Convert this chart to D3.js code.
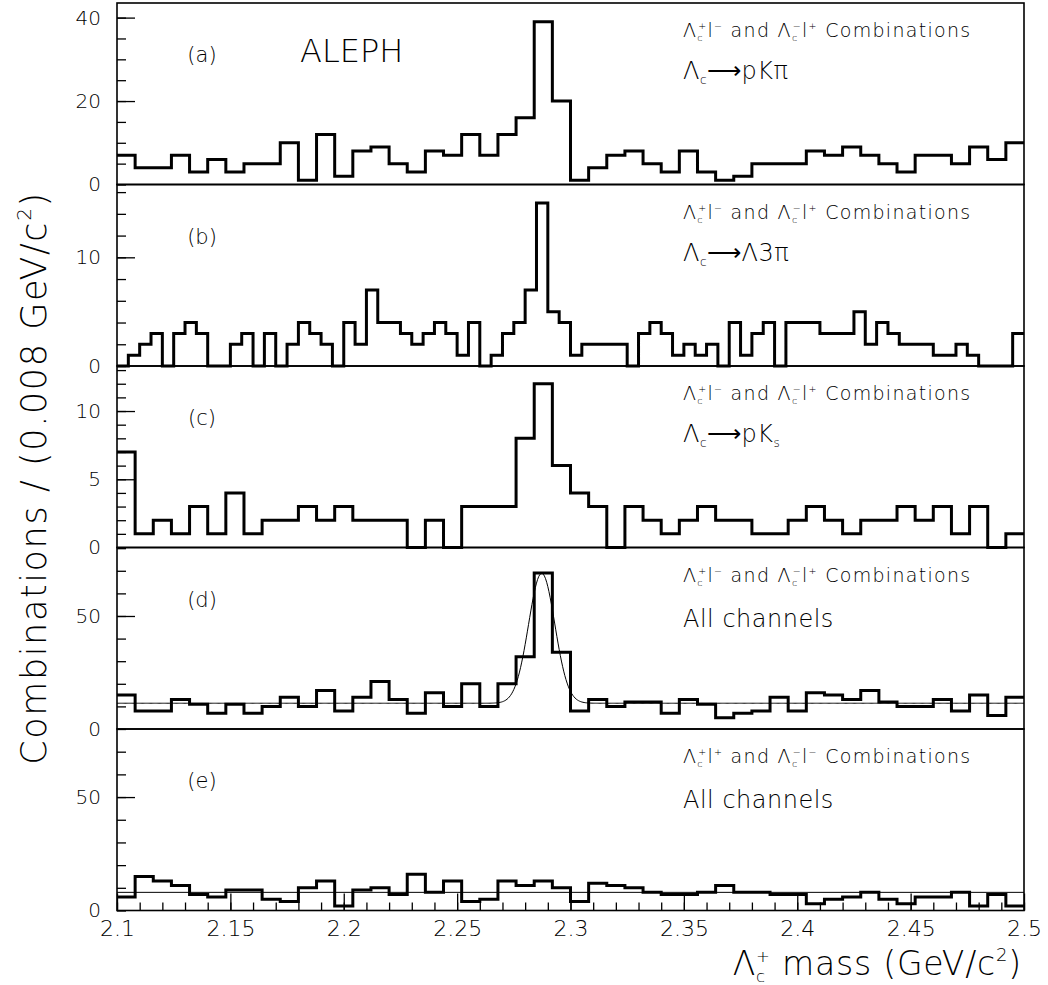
<!DOCTYPE html>
<html>
<head>
<meta charset="utf-8">
<script src="https://cdn.jsdelivr.net/npm/d3@7/dist/d3.min.js"></script>
<style>
  body { margin: 0; background: #fff; }
  text { font-family: "DejaVu Sans", sans-serif; font-weight: 200; fill: #000; }
</style>
</head>
<body>
<div id="chart"></div>
<script>
// ---- data ----
const massMin = 2.1, massMax = 2.5;
const binWidth = 0.008;      // panels a, c, d, e (50 bins)
const binWidthB = 0.005;     // panel b (80 bins)

const countsA = [7,4,4,7,3,6,3,5,5,10, 1,12,2,8,9,5,3,8,7,12, 7,12,16,39,20, 1,4,7,8,5,
                 3,8,3,1,2, 5,5,5,8,7, 9,7,5,3,7, 7,5,9,6,10];
const countsB = [0,1,2,3,0,3,4,3,0,0, 2,3,0,3,0,2,4,3,2,0, 4,2,7,4,4,3,2,3,4,3,
                 1,4,0,1,3,4,7,15,5,4, 1,2,2,2,2,0,3,4,3,1, 2,1,2,0,4,1,3,4,0,4,
                 4,4,3,3,3,5,2,4,3,2, 2,2,1,1,2,1,0,0,0,3];
const countsC = [7,1,2,1,3,1,4,1,2,2, 3,2,3,2,2,2,0,2,0,3, 3,3,8,12,6, 4,3,0,3,2,
                 1,2,3,2,2, 1,1,2,3,2, 1,2,2,3,2, 3,1,3,0,1];
const countsD = [15,8,8,13,11,7,11,7,10,14, 10,17,8,14,21,13,7,16,10,20, 10,20,32,69,34,
                 8,13,10,12,12, 7,13,11,5,7, 8,14,8,16,15, 13,17,12,10,10, 13,8,15,6,14];
const countsE = [6,15,13,11,7,6,9,9,5,4, 10,13,2,9,10,7,16,8,13,4, 5,13,11,13,10,
                 4,12,11,10,8, 7,7,8,11,8, 8,7,7,3,5, 6,8,5,3,6, 6,8,2,7,2];

// fit in (d): gaussian on a flat background; flat level in (e)
const fitD = { mean: 2.2873, sigma: 0.0058, amplitude: 57.5, background: 11.4 };
const flatE = 8;

const panelNames = ["(a)", "(b)", "(c)", "(d)", "(e)"];
const yMax = [43.5, 16.7, 13.3, 80.3, 80];
const yMinorStep = [5, 2, 1, 10, 10];
const yLabelTicks = [[0, 20, 40], [0, 10], [0, 5, 10], [0, 50], [0, 50]];
const xLabelTicks = [2.1, 2.15, 2.2, 2.25, 2.3, 2.35, 2.4, 2.45, 2.5];
// charges in the first annotation line: [lambda1, lepton1, lambda2, lepton2]
const chargeSets = [["+","−","−","+"], ["+","−","−","+"], ["+","−","−","+"], ["+","−","−","+"], ["+","+","−","−"]];
const decayLines = [["pKπ", null], ["Λ3π", null], ["pK", "s"], ["All channels"], ["All channels"]];

// ---- layout ----
const svgW = 1048, svgH = 985;
const plotLeft = 117, plotRight = 1024, plotTop = 3, panelH = 181.5;

const svg = d3.select("#chart").append("svg")
    .attr("width", svgW)
    .attr("height", svgH);

const x = d3.scaleLinear().domain([massMin, massMax]).range([plotLeft, plotRight]);

const allCounts = [countsA, countsB, countsC, countsD, countsE];
const widths = [binWidth, binWidthB, binWidth, binWidth, binWidth];

// histogram as a step line
function stepPoints(counts, w) {
    const pts = counts.map((c, i) => [massMin + i * w, c]);
    pts.push([massMin + counts.length * w, counts[counts.length - 1]]);
    return pts;
}

// Lambda_c with stacked sub/superscript
function lambdaC(t, sup, fs) {
    t.append("tspan").text("Λ");
    t.append("tspan").attr("font-size", fs * 0.5).attr("dy", fs * 0.22).text("c");
    if (sup) {
        t.append("tspan").attr("font-size", fs * 0.5).attr("dx", -fs * 0.3).attr("dy", -fs * 0.62).text(sup);
        return fs * 0.4; // baseline offset to restore
    }
    return -fs * 0.22;
}

allCounts.forEach((counts, p) => {
    const y0 = plotTop + p * panelH, y1 = y0 + panelH;
    const y = d3.scaleLinear().domain([0, yMax[p]]).range([y1, y0]);
    const g = svg.append("g");

    // histogram
    const line = d3.line()
        .x(d => x(d[0]))
        .y(d => y(d[1]))
        .curve(d3.curveStepAfter);
    g.append("path")
        .datum(stepPoints(counts, widths[p]))
        .attr("fill", "none")
        .attr("stroke", "#000")
        .attr("stroke-width", 3)
        .attr("d", line);

    // fit curves
    if (p === 3) {
        const xs = d3.range(massMin, massMax + 0.0001, 0.0005);
        const fit = d3.line()
            .x(m => x(m))
            .y(m => y(fitD.background + fitD.amplitude * Math.exp(-0.5 * ((m - fitD.mean) / fitD.sigma) ** 2)));
        g.append("path").datum(xs)
            .attr("fill", "none").attr("stroke", "#000").attr("stroke-width", 1)
            .attr("d", fit);
    }
    if (p === 4) {
        g.append("line")
            .attr("x1", plotLeft).attr("x2", plotRight)
            .attr("y1", y(flatE)).attr("y2", y(flatE))
            .attr("stroke", "#000").attr("stroke-width", 1);
    }

    // frame
    g.append("rect")
        .attr("x", plotLeft).attr("y", y0)
        .attr("width", plotRight - plotLeft).attr("height", panelH)
        .attr("fill", "none").attr("stroke", "#000").attr("stroke-width", 1.6);

    // y ticks (inside, pointing right)
    const minor = d3.range(0, yMax[p], yMinorStep[p]);
    g.append("g")
        .attr("transform", `translate(${plotLeft},0)`)
        .call(d3.axisRight(y).tickValues(minor).tickSize(9).tickFormat(""))
        .call(a => a.select(".domain").remove())
        .selectAll("line").attr("stroke-width", 1.3);
    g.append("g")
        .attr("transform", `translate(${plotLeft},0)`)
        .call(d3.axisRight(y).tickValues(yLabelTicks[p].filter(v => v > 0)).tickSize(18).tickFormat(""))
        .call(a => a.select(".domain").remove())
        .selectAll("line").attr("stroke-width", 1.3);

    // y labels
    g.append("g")
        .attr("transform", `translate(${plotLeft},0)`)
        .call(d3.axisLeft(y).tickValues(yLabelTicks[p]).tickSize(0).tickPadding(16))
        .call(a => a.select(".domain").remove())
        .selectAll("text")
        .style("font-family", "DejaVu Sans")
        .style("font-weight", 200)
        .style("font-size", "20px");

    // panel letter
    g.append("text")
        .attr("x", 202).attr("y", y0 + 59)
        .attr("text-anchor", "middle")
        .style("font-size", "21px")
        .text(panelNames[p]);

    // annotation line 1
    const fs1 = 19;
    const ch = chargeSets[p];
    const t1 = g.append("text").attr("x", 683).attr("y", y0 + 34)
        .style("font-size", fs1 + "px").style("letter-spacing", "1.3px");
    let back = lambdaC(t1, ch[0], fs1);
    t1.append("tspan").attr("dy", back).text("l");
    t1.append("tspan").attr("font-size", fs1 * 0.5).attr("dy", -fs1 * 0.4).text(ch[1]);
    t1.append("tspan").attr("dy", fs1 * 0.4).text(" and  ");
    back = lambdaC(t1, ch[2], fs1);
    t1.append("tspan").attr("dy", back).text("l");
    t1.append("tspan").attr("font-size", fs1 * 0.5).attr("dy", -fs1 * 0.4).text(ch[3]);
    t1.append("tspan").attr("dy", fs1 * 0.4).text(" Combinations");

    // annotation line 2
    const fs2 = 24;
    const t2 = g.append("text").attr("x", 683).attr("y", y0 + (p < 3 ? 76 : 79))
        .style("font-size", fs2 + "px").style("letter-spacing", "0.5px");
    const dl = decayLines[p];
    if (dl.length === 1) {
        t2.text(dl[0]);
    } else {
        back = lambdaC(t2, null, fs2);
        t2.append("tspan").attr("dy", back).text("⟶");
        t2.append("tspan").text(dl[0]);
        if (dl[1]) t2.append("tspan").attr("font-size", fs2 * 0.5).attr("dy", fs2 * 0.22).text(dl[1]);
    }

    if (p === 0) {
        g.append("text").attr("x", 300).attr("y", y0 + 59)
            .style("font-size", "32px").text("ALEPH");
    }

    // x axis on the last panel
    if (p === 4) {
        const minorX = d3.range(0, 41).map(i => massMin + i * 0.01);
        g.append("g")
            .attr("transform", `translate(0,${y1})`)
            .call(d3.axisTop(x).tickValues(minorX).tickSize(8).tickFormat(""))
            .call(a => a.select(".domain").remove())
            .selectAll("line").attr("stroke-width", 1.3);
        g.append("g")
            .attr("transform", `translate(0,${y1})`)
            .call(d3.axisTop(x).tickValues(xLabelTicks).tickSize(17).tickFormat(""))
            .call(a => a.select(".domain").remove())
            .selectAll("line").attr("stroke-width", 1.3);
        g.append("g")
            .attr("transform", `translate(0,${y1})`)
            .call(d3.axisBottom(x).tickValues(xLabelTicks).tickSize(0).tickPadding(10)
                .tickFormat(d => String(+d.toFixed(2))))
            .call(a => a.select(".domain").remove())
            .selectAll("text")
            .style("font-family", "DejaVu Sans")
            .style("font-weight", 200)
            .style("font-size", "22px");
    }
});

// axis titles
const xt = svg.append("text")
    .attr("x", 1022).attr("y", 975)
    .attr("text-anchor", "end")
    .style("font-size", "33px")
    .style("letter-spacing", "0.8px");
lambdaC(xt, "+", 33);
xt.append("tspan").attr("dy", 33 * 0.4).text(" mass (GeV/c");
xt.append("tspan").attr("font-size", 18).attr("dy", -14).text("2");
xt.append("tspan").attr("dy", 14).text(")");

const yt = svg.append("text")
    .attr("transform", "translate(46,478) rotate(-90)")
    .attr("text-anchor", "middle")
    .style("font-size", "35px")
    .style("letter-spacing", "1.6px");
yt.append("tspan").text("Combinations / (0.008 GeV/c");
yt.append("tspan").attr("font-size", 20).attr("dy", -15).text("2");
yt.append("tspan").attr("dy", 15).text(")");
</script>
</body>
</html>
